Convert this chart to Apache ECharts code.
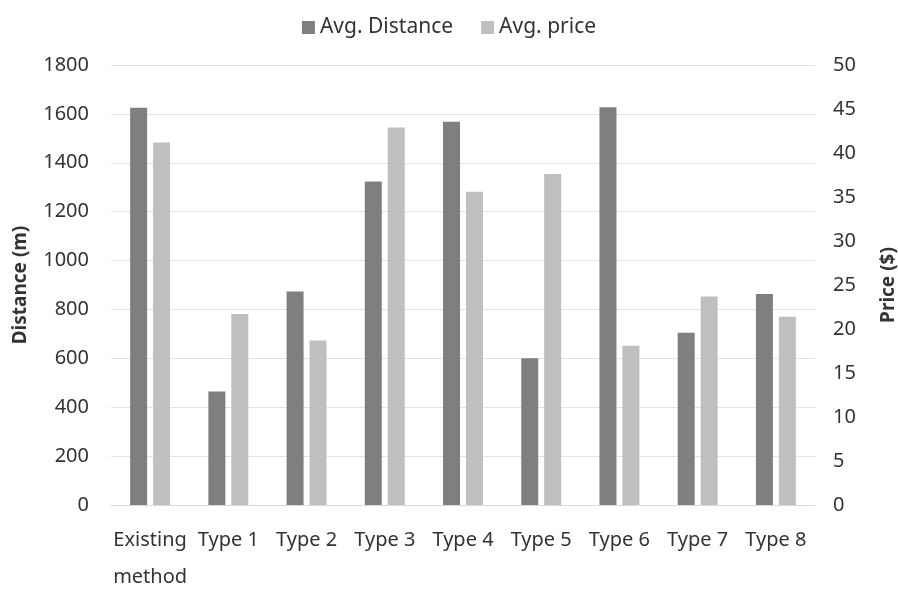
<!DOCTYPE html>
<html>
<head>
<meta charset="utf-8">
<script src="https://cdn.jsdelivr.net/npm/echarts@6/dist/echarts.min.js"></script>
<style>html,body{margin:0;padding:0;background:#fff}#c{width:898px;height:590px}</style>
</head>
<body>
<div id="c"></div>
<script>
const categories = ["Existing\nmethod", "Type 1", "Type 2", "Type 3", "Type 4", "Type 5", "Type 6", "Type 7", "Type 8"];
const avgDistance = [1625, 464, 873, 1323, 1568, 600, 1627, 705, 863];
const avgPrice = [41.2, 21.7, 18.7, 42.9, 35.6, 37.6, 18.1, 23.7, 21.4];
const seriesNames = ["Avg. Distance", "Avg. price"];

const FONT = "Noto Sans";
const TXT = "#333333";
const chart = echarts.init(document.getElementById('c'));
chart.setOption({
  animation: false,
  textStyle: { fontFamily: FONT },
  legend: {
    top: 12, left: 'center',
    itemWidth: 13, itemHeight: 13, itemGap: 28,
    icon: 'rect',
    textStyle: { fontFamily: FONT, fontSize: 21, color: TXT },
    data: seriesNames
  },
  grid: { left: 111, right: 83, top: 65, bottom: 85, outerBoundsMode: 'none', containLabel: false },
  xAxis: {
    type: 'category',
    data: categories,
    axisTick: { show: false },
    axisLine: { lineStyle: { color: '#d9d9d9' } },
    axisLabel: { fontFamily: FONT, fontSize: 20, color: TXT, margin: 17, lineHeight: 37, interval: 0,
      verticalAlign: 'top' }
  },
  yAxis: [
    {
      type: 'value', min: 0, max: 1800, interval: 200,
      name: 'Distance (m)', nameLocation: 'middle', nameGap: 81,
      nameTextStyle: { fontFamily: FONT, fontSize: 19, fontWeight: 'bold', color: TXT },
      axisLabel: { fontFamily: FONT, fontSize: 20, color: TXT, margin: 22, formatter: v => String(v) },
      splitLine: { lineStyle: { color: '#e3e3e3' } },
      axisLine: { show: false }, axisTick: { show: false }
    },
    {
      type: 'value', min: 0, max: 50, interval: 5,
      name: 'Price ($)', nameLocation: 'middle', nameGap: 64, nameRotate: 90,
      nameTextStyle: { fontFamily: FONT, fontSize: 19, fontWeight: 'bold', color: TXT },
      axisLabel: { fontFamily: FONT, fontSize: 20, color: TXT, margin: 18, formatter: v => String(v) },
      splitLine: { show: false },
      axisLine: { show: false }, axisTick: { show: false }
    }
  ],
  series: [
    { name: seriesNames[0], type: 'bar', yAxisIndex: 0, data: avgDistance,
      barWidth: 17, barGap: '35%', itemStyle: { color: '#7f7f7f' } },
    { name: seriesNames[1], type: 'bar', yAxisIndex: 1, data: avgPrice,
      barWidth: 17, barGap: '35%', itemStyle: { color: '#bfbfbf' } }
  ]
});
</script>
</body>
</html>
